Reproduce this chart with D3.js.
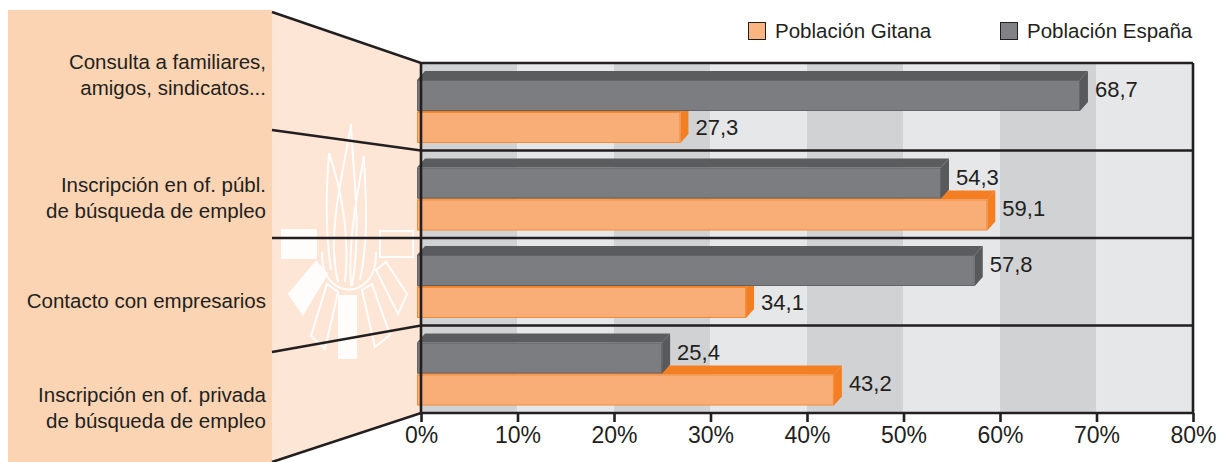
<!DOCTYPE html>
<html>
<head>
<meta charset="utf-8">
<script src="https://cdn.jsdelivr.net/npm/d3@7"></script>
<style>
  html, body { margin: 0; padding: 0; background: #fff; }
  svg { display: block; font-family: "Liberation Sans", Arial, sans-serif; }
</style>
</head>
<body>
<svg id="chart"></svg>
<script>
// data
const categories = [
  "Consulta a familiares, amigos, sindicatos...",
  "Inscripción en of. públ. de búsqueda de empleo",
  "Contacto con empresarios",
  "Inscripción en of. privada de búsqueda de empleo"
];
const categoryLines = [
  ["Consulta a familiares,", "amigos, sindicatos..."],
  ["Inscripción en of. públ.", "de búsqueda de empleo"],
  ["Contacto con empresarios"],
  ["Inscripción en of. privada", "de búsqueda de empleo"]
];
const gitana = [27.3, 59.1, 34.1, 43.2];
const espana = [68.7, 54.3, 57.8, 25.4];
const tickValues = [0, 10, 20, 30, 40, 50, 60, 70, 80];
const seriesNames = ["Población Gitana", "Población España"];

const width = 1219, height = 462;
const ink = "#231f20";

const svg = d3.select("#chart")
    .attr("width", width)
    .attr("height", height)
    .attr("viewBox", [0, 0, width, height]);

const x = d3.scaleLinear().domain([0, 80]).range([421, 1193]);
const y = d3.scaleBand().domain(categories).range([63, 413]).paddingInner(0).paddingOuter(0);

// left panel edges (where the separator lines meet the label box)
const panelRight = 272;
const leftEdges = [12, 130, 238, 352, 462];
const labelCenters = [75, 198, 301, 408];

// salmon label box
svg.append("rect")
    .attr("x", 8).attr("y", 10)
    .attr("width", panelRight - 8).attr("height", height - 10)
    .attr("fill", "#fbd4b4");

// light trapezoid between label box and plot
svg.append("path")
    .attr("d", `M${panelRight},${leftEdges[0]}L${x(0)},${y.range()[0]}L${x(0)},${y.range()[1]}L${panelRight},${height}Z`)
    .attr("fill", "#fde6d6");

// watermark logo (white flames and rays)
const logo = svg.append("g")
    .attr("fill", "none")
    .attr("stroke", "#fff")
    .attr("stroke-width", 2)
    .attr("opacity", 0.95);
logo.append("rect").attr("x", 282).attr("y", 230).attr("width", 34).attr("height", 28).attr("fill", "#fff");
logo.append("rect").attr("x", 380).attr("y", 231).attr("width", 33).attr("height", 26);
logo.append("rect").attr("x", 339).attr("y", 296).attr("width", 17).attr("height", 62).attr("fill", "#fff");
logo.append("path").attr("d", "M316,262L327,274L303,314L289,294Z").attr("fill", "#fff");
logo.append("path").attr("d", "M327,284L338,292L325,349L311,336Z");
logo.append("path").attr("d", "M362,290L372,284L390,335L375,347Z");
logo.append("path").attr("d", "M376,270L386,262L407,294L398,314Z");
logo.append("path").attr("d", "M322,252C320,302 378,302 376,252");
logo.append("path").attr("d", "M338,282C326,232 344,170 351,124C353,172 362,230 352,286");
logo.append("path").attr("d", "M331,270C324,222 327,182 329,153C342,192 350,234 345,282");
logo.append("path").attr("d", "M360,280C370,232 365,192 364,156C356,202 348,242 351,286");

// striped plot background
svg.append("g")
  .selectAll("rect")
  .data(d3.range(8))
  .join("rect")
    .attr("x", i => x(i * 10))
    .attr("y", y.range()[0])
    .attr("width", i => x((i + 1) * 10) - x(i * 10))
    .attr("height", y.range()[1] - y.range()[0])
    .attr("fill", i => i % 2 === 0 ? "#d1d2d4" : "#e6e7e8");

// bars
const dx = 8, dy = 9;
const greyCol = { front: "#7c7d81", top: "#5b5c5e", side: "#58595b", stroke: "#646568" };
const orangeCol = { front: "#f9ae78", top: "#f47f22", side: "#f47f22", stroke: "#f58b36" };

function topFace(g, x0, x1, yt, c) {
  g.append("path")
    .attr("d", `M${x0},${yt}L${x0 + dx},${yt - dy}L${x1 + dx},${yt - dy}L${x1},${yt}Z`)
    .attr("fill", c.top);
}
function sideFace(g, x1, yt, h, c) {
  g.append("path")
    .attr("d", `M${x1},${yt}L${x1 + dx},${yt - dy}L${x1 + dx},${yt + h - dy}L${x1},${yt + h}Z`)
    .attr("fill", c.side);
}
function frontFace(g, x0, x1, yt, h, c) {
  g.append("rect")
    .attr("x", x0 + 0.5).attr("y", yt + 0.5)
    .attr("width", x1 - x0 - 1).attr("height", h - 1)
    .attr("fill", c.front)
    .attr("stroke", c.stroke)
    .attr("stroke-width", 1);
}

const fmt = v => d3.format(".1f")(v).replace(".", ",");
const barH = 31;
const bars = svg.append("g");
categories.forEach((cat, i) => {
  const band = y(cat);
  const gTop = band + 17, oTop = gTop + barH + 1;
  const x0 = x(0) - 4;
  const gx = x(espana[i]) - 4, ox = x(gitana[i]) - 4;
  const g = bars.append("g");
  // orange back faces first, grey covers them where it is longer
  topFace(g, x0, ox, oTop, orangeCol);
  sideFace(g, ox, oTop, barH, orangeCol);
  topFace(g, x0, gx, gTop, greyCol);
  sideFace(g, gx, gTop, barH, greyCol);
  frontFace(g, x0, gx, gTop, barH, greyCol);
  frontFace(g, x0, ox, oTop, barH, orangeCol);

  // value labels
  g.append("text")
    .attr("x", x(espana[i]) + 11)
    .attr("y", gTop + barH / 2 - 6)
    .attr("dy", "0.35em")
    .attr("font-size", 22)
    .attr("fill", ink)
    .text(fmt(espana[i]));
  const oShift = gitana[i] > espana[i] ? -7 : 0;
  g.append("text")
    .attr("x", x(gitana[i]) + 11)
    .attr("y", oTop + barH / 2 + oShift)
    .attr("dy", "0.35em")
    .attr("font-size", 22)
    .attr("fill", ink)
    .text(fmt(gitana[i]));
});

// separator lines (plot + slanted connectors to label box)
const sepYs = categories.map(c => y(c)).concat([y.range()[1]]);
const lines = svg.append("g")
    .attr("stroke", ink)
    .attr("stroke-width", 2.6)
    .attr("fill", "none");
sepYs.forEach((sy, i) => {
  lines.append("path")
    .attr("d", `M${panelRight},${leftEdges[i]}L${x(0)},${sy}L${x(80)},${sy}`);
});
lines.append("line")
    .attr("x1", x(0)).attr("x2", x(0))
    .attr("y1", y.range()[0]).attr("y2", y.range()[1]);
lines.append("line")
    .attr("x1", x(80)).attr("x2", x(80))
    .attr("y1", y.range()[0]).attr("y2", y.range()[1]);

// x axis
const axis = svg.append("g")
    .attr("transform", `translate(0,${y.range()[1]})`)
    .call(d3.axisBottom(x).tickValues(tickValues).tickSize(9).tickFormat(d => d + "%"));
axis.select(".domain").remove();
axis.selectAll(".tick line").attr("stroke", ink).attr("stroke-width", 2.6);
axis.selectAll(".tick text")
    .attr("font-family", "Liberation Sans, Arial, sans-serif")
    .attr("font-size", 23)
    .attr("fill", ink)
    .attr("y", 14);

// category labels
const labels = svg.append("g")
    .attr("font-size", 20.5)
    .attr("fill", ink)
    .attr("text-anchor", "end");
categoryLines.forEach((ls, i) => {
  const lh = 26;
  const start = labelCenters[i] - (ls.length - 1) * lh / 2;
  ls.forEach((t, j) => {
    labels.append("text")
      .attr("x", 266)
      .attr("y", start + j * lh)
      .attr("dy", "0.35em")
      .text(t);
  });
});

// legend
const legendX = [748, 1000];
const legendFill = ["#fbb583", "#808285"];
const legend = svg.append("g");
seriesNames.forEach((name, i) => {
  legend.append("rect")
    .attr("x", legendX[i] + 0.5).attr("y", 22.5)
    .attr("width", 17).attr("height", 17)
    .attr("fill", legendFill[i])
    .attr("stroke", ink).attr("stroke-width", 1);
  legend.append("text")
    .attr("x", legendX[i] + 27)
    .attr("y", 31)
    .attr("dy", "0.35em")
    .attr("font-size", 20.5)
    .attr("fill", ink)
    .text(name);
});
</script>
</body>
</html>
